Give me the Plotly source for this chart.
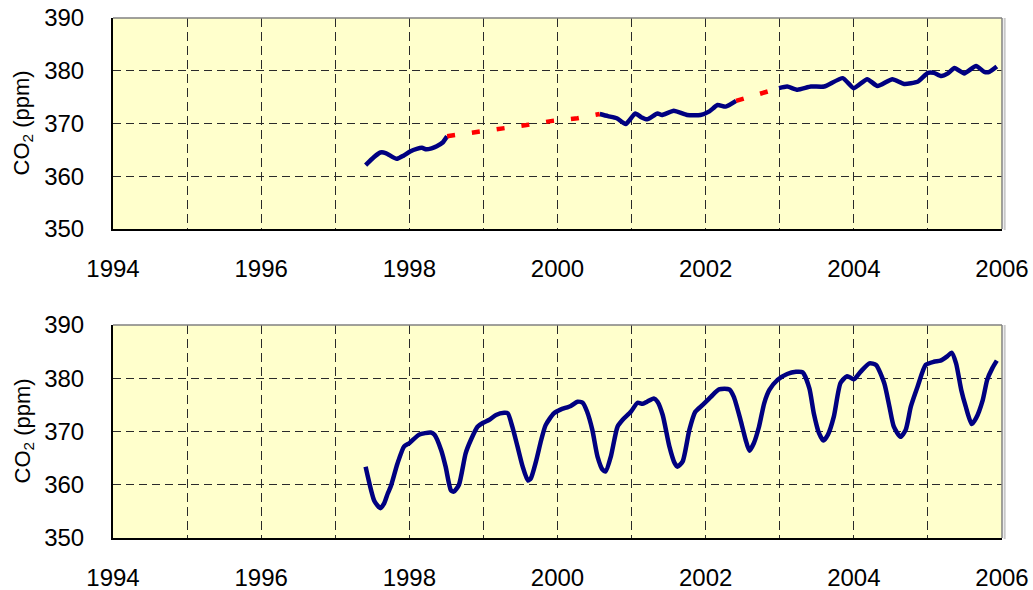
import plotly.graph_objects as go
from plotly.subplots import make_subplots

# Upper panel: deseasonalised CO2 trend (blue = observed, red = interpolated gaps)
trend_years = [1997.41, 1997.52, 1997.61, 1997.68, 1997.83, 1997.92, 1998.01, 1998.10, 1998.17,
               1998.23, 1998.30, 1998.37, 1998.45, 1998.51,
               None,
               2000.57, 2000.68, 2000.80, 2000.92, 2001.05, 2001.13, 2001.21, 2001.35, 2001.41,
               2001.57, 2001.75, 2001.93, 2002.05, 2002.16, 2002.27, 2002.41,
               None,
               2002.99, 2003.10, 2003.24, 2003.42, 2003.60, 2003.85, 2004.00, 2004.18, 2004.32,
               2004.52, 2004.68, 2004.86, 2005.00, 2005.08, 2005.18, 2005.27, 2005.36, 2005.49,
               2005.65, 2005.76, 2005.83, 2005.93]
trend_ppm = [362.1, 363.6, 364.5, 364.4, 363.3, 363.9, 364.7, 365.2, 365.4,
             365.1, 365.3, 365.7, 366.4, 367.6,
             None,
             371.8, 371.4, 371.0, 369.9, 371.9, 371.2, 370.8, 371.9, 371.6,
             372.4, 371.6, 371.6, 372.3, 373.5, 373.2, 374.3,
             None,
             376.7, 377.0, 376.4, 377.0, 377.0, 378.6, 376.7, 378.4, 377.1,
             378.4, 377.5, 377.9, 379.6, 379.6, 379.0, 379.5, 380.5, 379.5,
             380.9, 379.8, 379.8, 380.8]

gap_years = [1998.51, 1998.89, 1999.24, 1999.58, 1999.93, 2000.27, 2000.57,
             None,
             2002.41, 2002.70, 2002.99]
gap_ppm = [367.6, 368.3, 369.1, 369.7, 370.5, 371.0, 371.8,
           None,
           374.3, 375.6, 376.7]

# Lower panel: monthly CO2 concentration with seasonal cycle
monthly_years = [1997.41, 1997.53, 1997.61, 1997.66, 1997.71, 1997.75, 1997.84, 1997.93, 1998.00,
                 1998.13, 1998.29, 1998.34, 1998.43, 1998.49, 1998.56, 1998.60, 1998.67, 1998.76,
                 1998.83, 1998.92, 1998.99, 1999.08, 1999.17, 1999.28, 1999.33, 1999.39, 1999.46,
                 1999.53, 1999.60, 1999.64, 1999.71, 1999.78, 1999.84, 1999.95, 2000.04, 2000.18,
                 2000.27, 2000.34, 2000.40, 2000.47, 2000.54, 2000.61, 2000.65, 2000.72, 2000.81,
                 2000.88, 2000.99, 2001.08, 2001.15, 2001.21, 2001.30, 2001.35, 2001.42, 2001.51,
                 2001.58, 2001.62, 2001.69, 2001.78, 2001.86, 2001.96, 2002.07, 2002.18, 2002.32,
                 2002.38, 2002.47, 2002.54, 2002.59, 2002.65, 2002.72, 2002.79, 2002.86, 2002.97,
                 2003.10, 2003.22, 2003.31, 2003.40, 2003.46, 2003.53, 2003.59, 2003.65, 2003.73,
                 2003.82, 2003.91, 2004.00, 2004.09, 2004.21, 2004.30, 2004.41, 2004.48, 2004.54,
                 2004.63, 2004.70, 2004.77, 2004.86, 2004.97, 2005.08, 2005.17, 2005.26, 2005.32,
                 2005.38, 2005.45, 2005.51, 2005.59, 2005.65, 2005.74, 2005.80, 2005.87, 2005.93]
monthly_ppm = [363.4, 356.9, 355.6, 356.5, 358.4, 359.7, 364.0, 367.2, 367.8,
               369.4, 369.8, 369.4, 366.5, 363.4, 359.0, 358.7, 360.0, 365.9,
               368.4, 370.9, 371.6, 372.2, 373.1, 373.5, 373.4, 370.9, 367.2,
               363.4, 360.8, 361.2, 364.4, 368.4, 371.2, 373.4, 374.1, 374.8,
               375.6, 375.4, 373.7, 370.3, 365.3, 362.8, 362.5, 365.3, 370.9,
               372.2, 373.7, 375.4, 375.2, 375.6, 376.2, 375.6, 373.1, 367.2,
               364.1, 363.4, 364.4, 370.3, 373.7, 375.0, 376.5, 377.9, 377.9,
               376.5, 372.2, 368.4, 366.4, 367.8, 370.9, 375.3, 377.8, 379.7,
               380.8, 381.2, 381.1, 378.1, 373.4, 369.7, 368.3, 369.4, 372.8,
               379.1, 380.4, 379.8, 381.2, 382.8, 382.5, 379.1, 374.7, 370.9,
               369.0, 370.3, 374.7, 378.4, 382.5, 383.1, 383.3, 384.1, 384.8,
               382.8, 377.8, 374.7, 371.4, 372.5, 375.9, 379.7, 381.9, 383.3]

year_labels = [1994, 1996, 1998, 2000, 2002, 2004, 2006]
year_grid = [1995, 1997, 1999, 2001, 2003, 2005]
ppm_ticks = [350, 360, 370, 380, 390]
y_title = "CO<sub>2</sub> (ppm)"

NAVY = "#000080"
FONT = "Liberation Sans, Arial, sans-serif"
TICK_FONT = dict(family=FONT, size=24, color="#000000")
GRID = dict(showgrid=True, gridcolor="#2a2a2a", gridwidth=1)

fig = make_subplots(rows=2, cols=1)

fig.add_trace(go.Scatter(x=trend_years, y=trend_ppm, mode="lines", connectgaps=False,
                         line=dict(color=NAVY, width=4.5, shape="spline", smoothing=0.5),
                         showlegend=False, hoverinfo="skip"), row=1, col=1)
fig.add_trace(go.Scatter(x=gap_years, y=gap_ppm, mode="lines", connectgaps=False,
                         line=dict(color="#FF0000", width=4.5, dash="8px,17px"),
                         showlegend=False, hoverinfo="skip"), row=1, col=1)
fig.add_trace(go.Scatter(x=monthly_years, y=monthly_ppm, mode="lines",
                         line=dict(color=NAVY, width=4.5, shape="spline", smoothing=0.6),
                         showlegend=False, hoverinfo="skip"), row=2, col=1)

x_dom = [113 / 1033, 1002 / 1033]
y_doms = {1: [(590 - 229) / 590, (590 - 18) / 590], 2: [(590 - 538) / 590, (590 - 325) / 590]}

for r in (1, 2):
    xa = "xaxis" if r == 1 else "xaxis2"
    ya = "yaxis" if r == 1 else "yaxis2"
    fig.layout[xa].update(
        domain=x_dom, range=[1994, 2006], tickvals=year_labels,
        griddash="9px,5px", **GRID,
        minor=dict(tickvals=year_grid, griddash="9px,5px", **GRID),
        zeroline=False, showline=True, linecolor="#000000", linewidth=2,
        ticks="", tickfont=TICK_FONT, ticklabelstandoff=17, automargin=False,
    )
    fig.layout[ya].update(
        domain=y_doms[r], range=[350, 390], tickvals=ppm_ticks,
        griddash="8px,5px", **GRID,
        zeroline=False, showline=True, linecolor="#000000", linewidth=2,
        ticks="", tickfont=TICK_FONT, ticklabelstandoff=22, automargin=False,
    )
    # rotated axis title placed at the left edge of each panel
    fig.add_annotation(text=y_title, xref="paper", yref="paper",
                       x=23 / 1033, y=sum(y_doms[r]) / 2, textangle=-90,
                       showarrow=False, xanchor="center", yanchor="middle",
                       font=dict(family=FONT, size=22, color="#000000"))
    # gray frame along the top and right edges of each panel
    xref = "x domain" if r == 1 else "x2 domain"
    yref = "y domain" if r == 1 else "y2 domain"
    fig.add_shape(type="line", xref=xref, yref=yref, x0=0, x1=1, y0=1, y1=1,
                  line=dict(color="#808080", width=1.5))
    fig.add_shape(type="line", xref=xref, yref=yref, x0=1, x1=1, y0=0, y1=1,
                  line=dict(color="#808080", width=1.5))
    fig.add_shape(type="line", xref=xref, yref=yref, x0=1.003, x1=1.003, y0=-0.005, y1=1,
                  line=dict(color="#C8C8C8", width=2))

fig.update_layout(
    width=1033, height=590,
    margin=dict(l=0, r=0, t=0, b=0),
    paper_bgcolor="#FFFFFF",
    plot_bgcolor="#FFFFCC",
    showlegend=False,
)

fig.write_html("out.html")
